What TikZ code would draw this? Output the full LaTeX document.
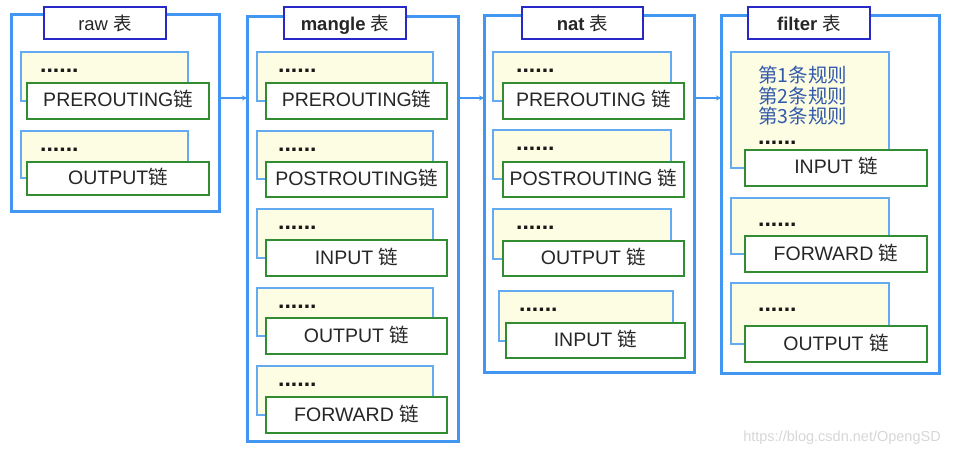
\documentclass[tikz,border=0pt]{standalone}
\usepackage{fontspec}
\setmainfont{Liberation Sans}
\newfontfamily\cjk{Noto Sans CJK SC}
\usetikzlibrary{fit,arrows.meta}
\definecolor{outerblue}{RGB}{64,150,240}
\definecolor{titleblue}{RGB}{40,40,200}
\definecolor{chaingreen}{RGB}{50,140,50}
\definecolor{ruleyellow}{RGB}{253,253,228}
\definecolor{ruleblue}{RGB}{100,170,240}
\definecolor{ruletext}{RGB}{50,90,170}
\definecolor{marktext}{RGB}{215,215,215}
\newcommand\lian{{\cjk\mdseries 链}}
\newcommand\biao{{\cjk\mdseries 表}}
\newcommand{\mkchain}[6]{%
  \pgfmathsetmacro\gmid{(#3+#4)/2}%
  \node[rulebox, fit={(\yl,#2) (\yr,\gmid)}] (#1r) {};
  \node[dots, anchor=west] (#1d) at (\dx,#5) {......};
  \node[chainbox, fit={(\gl,#3) (\gr,#4)}] (#1) {};
  \node[chainlbl] (#1l) at (#1.center) {#6};
}
\newcommand{\mktitle}[4]{%
  \node[titlebox, fit={(#2,7) (#3,39)}] (#1) {};
  \node[titlelbl] (#1l) at (#1.center) {#4};
}
\begin{document}
\begin{tikzpicture}[x=1pt,y=-1pt,
  outerbox/.style={draw=outerblue, line width=3pt, inner sep=0pt, outer sep=0pt},
  titlebox/.style={draw=titleblue, fill=white, line width=2.5pt, inner sep=0pt, outer sep=0pt},
  titlelbl/.style={font=\fontsize{18.5}{20}\selectfont, text=black!85, inner sep=0pt, text height=17pt, text depth=1pt},
  rulebox/.style={draw=ruleblue, fill=ruleyellow, line width=2pt, inner sep=0pt, outer sep=0pt},
  chainbox/.style={draw=chaingreen, fill=white, line width=2pt, inner sep=0pt, outer sep=0pt},
  chainlbl/.style={font=\fontsize{19.5}{21}\selectfont, text=black!85, inner sep=0pt, text height=15pt, text depth=3pt},
  dots/.style={font=\fontsize{23}{24}\selectfont\bfseries, inner sep=0pt, text=black!90},
  rules/.style={font=\fontsize{19.5}{21}\selectfont\cjk, text=ruletext, inner sep=0pt},
  arr/.style={draw=outerblue, line width=1.5pt, -{Stealth[length=5pt,width=5pt]}}
]
\fill[white] (0,0) rectangle (958,457);
\useasboundingbox (0,0) rectangle (958,457);

% outer table boxes
\node[outerbox, fit={(11,15) (219,212)}] (raw) {};
\node[outerbox, fit={(247,17) (458,441)}] (mangle) {};
\node[outerbox, fit={(484,16) (694,372)}] (nat) {};
\node[outerbox, fit={(721,16) (939,373)}] (filter) {};

% titles
\mktitle{rawt}{44}{166}{raw \biao}
\mktitle{manglet}{284}{406}{\bfseries mangle \biao}
\mktitle{natt}{522}{643}{\bfseries nat \biao}
\mktitle{filtert}{748}{870}{\bfseries filter \biao}

% raw chains
\def\yl{21}\def\yr{188}\def\gl{27}\def\gr{209}\def\dx{40}
\mkchain{rawpre}{52}{83}{119}{71}{PREROUTING\lian}
\mkchain{rawout}{131}{162}{195}{150}{OUTPUT\lian}

% mangle chains
\def\yl{257}\def\yr{433}\def\gl{266}\def\gr{447}\def\dx{278}
\mkchain{mpre}{52}{83}{119}{71}{PREROUTING\lian}
\mkchain{mpost}{131}{162}{197}{150}{POSTROUTING\lian}
\mkchain{minput}{209}{240}{276}{228}{INPUT \lian}
\mkchain{moutput}{288}{318}{354}{307}{OUTPUT \lian}
\mkchain{mforward}{366}{397}{433}{385}{FORWARD \lian}

% nat chains
\def\yl{493}\def\yr{671}\def\gl{503}\def\gr{684}\def\dx{516}
\mkchain{npre}{52}{83}{119}{71}{PREROUTING \lian}
\mkchain{npost}{130}{162}{197}{149}{POSTROUTING \lian}
\mkchain{noutput}{209}{241}{276}{228}{OUTPUT \lian}
\def\yl{499}\def\yr{673}\def\gl{506}\def\gr{685}\def\dx{519}
\mkchain{ninput}{291}{323}{358}{310}{INPUT \lian}

% filter chains
\def\yl{731}\def\yr{889}\def\gl{745}\def\gr{927}\def\dx{758}
\mkchain{finput}{52}{150}{186}{143}{INPUT \lian}
\mkchain{fforward}{198}{236}{272}{225}{FORWARD \lian}
\mkchain{foutput}{283}{326}{362}{310}{OUTPUT \lian}

% rules in filter INPUT
\node[rules, anchor=base west] (rule1) at (758,83) {第1条规则};
\node[rules, anchor=base west] (rule2) at (758,104) {第2条规则};
\node[rules, anchor=base west] (rule3) at (758,124) {第3条规则};

% arrows between tables
\coordinate (ay) at (0,98);
\draw[arr] (raw.east |- ay) -- (mangle.west |- ay);
\draw[arr] (mangle.east |- ay) -- (nat.west |- ay);
\draw[arr] (nat.east |- ay) -- (filter.west |- ay);

% watermark
\node[font=\fontsize{14.5}{16}\selectfont, text=marktext, inner sep=0pt] (mark) at (842,438) {https://blog.csdn.net/OpengSD};
\end{tikzpicture}
\end{document}
